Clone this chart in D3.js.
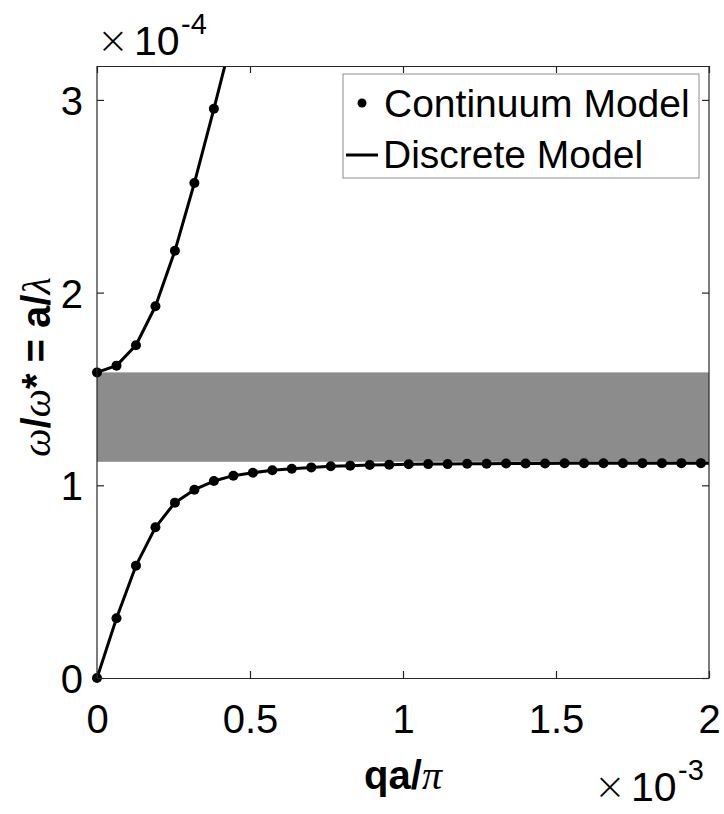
<!DOCTYPE html>
<html><head><meta charset="utf-8">
<script src="https://cdn.jsdelivr.net/npm/d3@7/dist/d3.min.js"></script>
<style>body{margin:0;background:#fff}svg{display:block}</style>
</head><body>
<script>
// qa/pi values (x 10^-3) of the sampled points
const qValues = [0, 0.0637, 0.1273, 0.1910, 0.2546, 0.3183, 0.3820, 0.4456, 0.5093, 0.5730,
  0.6366, 0.7003, 0.7639, 0.8276, 0.8913, 0.9549, 1.0186, 1.0823, 1.1459, 1.2096,
  1.2732, 1.3369, 1.4006, 1.4642, 1.5279, 1.5915, 1.6552, 1.7189, 1.7825, 1.8462,
  1.9099, 1.9735];
// lower (acoustic) branch, omega/omega* (x 10^-4)
const lowerValues = [0, 0.310, 0.583, 0.782, 0.910, 0.977, 1.022, 1.050, 1.065, 1.078,
  1.086, 1.093, 1.099, 1.102, 1.105, 1.107, 1.109, 1.110, 1.110, 1.112,
  1.112, 1.113, 1.113, 1.113, 1.114, 1.114, 1.114, 1.114, 1.115, 1.115,
  1.115, 1.115];
// upper (optical) branch, first points
const upperValues = [1.586, 1.621, 1.727, 1.929, 2.217, 2.569, 2.954, 3.350];
// discrete model end point of lower branch
const lowerEnd = [2, 1.115];
// band gap limits
const gapBand = [1.122, 1.586];
const xTicks = [0, 0.5, 1, 1.5, 2];
const yTicks = [0, 1, 2, 3];
const xDomain = [0, 2];
const yDomain = [0, 3.176];

const W = 724, H = 814;
const svg = d3.select("body").append("svg").attr("width", W).attr("height", H)
  .style("font-family", "'Liberation Sans', Arial, sans-serif");

const L = 97, R = 709, T = 66, B = 678;
const x = d3.scaleLinear().domain(xDomain).range([L, R]);
const y = d3.scaleLinear().domain(yDomain).range([B, T]);

svg.append("defs").append("clipPath").attr("id", "clip")
  .append("rect").attr("x", L).attr("y", T).attr("width", R - L).attr("height", B - T);

const plot = svg.append("g");
// band gap
plot.append("rect")
  .attr("x", x(xDomain[0])).attr("width", x(xDomain[1]) - x(xDomain[0]))
  .attr("y", y(gapBand[1])).attr("height", y(gapBand[0]) - y(gapBand[1]))
  .attr("fill", "#8c8c8c");

const lowerPts = qValues.map((q, i) => [q, lowerValues[i]]);
const upperPts = upperValues.map((v, i) => [qValues[i], v]);
const lineGen = d3.line().x(d => x(d[0])).y(d => y(d[1]));

const lines = plot.append("g").attr("clip-path", "url(#clip)");
lines.append("path").datum(lowerPts.concat([lowerEnd]))
  .attr("d", lineGen).attr("fill", "none").attr("stroke", "#000").attr("stroke-width", 3).attr("stroke-linejoin", "round");
lines.append("path").datum(upperPts)
  .attr("d", lineGen).attr("fill", "none").attr("stroke", "#000").attr("stroke-width", 3).attr("stroke-linejoin", "round");

const dots = lowerPts.concat(upperPts).filter(d => d[1] <= yDomain[1] && d[0] <= xDomain[1]);
plot.append("g").selectAll("circle").data(dots).join("circle")
  .attr("cx", d => x(d[0])).attr("cy", d => y(d[1])).attr("r", 5).attr("fill", "#000");

// axes
const axCol = "#262626";
const gB = svg.append("g").attr("transform", `translate(0,${B})`)
  .call(d3.axisBottom(x).tickValues(xTicks).tickFormat(d3.format("")).tickSizeInner(-7).tickSizeOuter(0));
const gT = svg.append("g").attr("transform", `translate(0,${T})`)
  .call(d3.axisTop(x).tickValues(xTicks).tickFormat("").tickSizeInner(-7).tickSizeOuter(0));
const gL = svg.append("g").attr("transform", `translate(${L},0)`)
  .call(d3.axisLeft(y).tickValues(yTicks).tickFormat(d3.format("")).tickSizeInner(-7).tickSizeOuter(0));
const gR = svg.append("g").attr("transform", `translate(${R},0)`)
  .call(d3.axisRight(y).tickValues(yTicks).tickFormat("").tickSizeInner(-7).tickSizeOuter(0));
[gB, gT, gL, gR].forEach(g => {
  g.select(".domain").attr("stroke", axCol).attr("stroke-width", 1.2);
  g.selectAll(".tick line").attr("stroke", axCol).attr("stroke-width", 1.2);
});
gL.select(".domain").attr("d", `M0,${B}V${T}`);
gR.select(".domain").attr("d", `M0,${B}V${T}`);
gB.selectAll(".tick text").attr("y", 55).attr("dy", null)
  .attr("font-size", 40).attr("fill", "#000").attr("font-family", "'Liberation Sans', Arial, sans-serif");
gL.selectAll(".tick text").attr("x", -14).attr("dy", "0.36em")
  .attr("font-size", 40).attr("fill", "#000").attr("font-family", "'Liberation Sans', Arial, sans-serif");

// exponent labels
function expLabel(x0, base, exp) {
  svg.append("text").attr("x", x0 - 4).attr("y", base - 2).attr("font-size", 38)
    .attr("font-family", "'DejaVu Sans', sans-serif").attr("font-weight", 200).attr("fill", "#000").text("×");
  svg.append("text").attr("x", x0 + 33).attr("y", base).attr("font-size", 41).attr("fill", "#000").text("10");
  svg.append("text").attr("x", x0 + 80).attr("y", base - 21).attr("font-size", 29).attr("fill", "#000").text(exp);
}
expLabel(101, 55, "-4");
expLabel(598, 801, "-3");

// x label
const greek = "'Liberation Serif', 'DejaVu Serif', serif";
const xl = svg.append("text").attr("x", (L + R) / 2).attr("y", 789).attr("text-anchor", "middle")
  .attr("font-size", 40).attr("fill", "#000");
xl.append("tspan").attr("font-weight", "bold").text("qa/");
xl.append("tspan").attr("font-style", "italic").attr("font-family", greek).text("π");

// y label
const yl = svg.append("text").attr("transform", "translate(50,367) rotate(-90)")
  .attr("text-anchor", "middle").attr("font-size", 40).attr("fill", "#000");
yl.append("tspan").attr("font-style", "italic").attr("font-family", greek).text("ω");
yl.append("tspan").attr("font-weight", "bold").text("/");
yl.append("tspan").attr("font-style", "italic").attr("font-family", greek).text("ω");
yl.append("tspan").attr("font-weight", "bold").text("* = a/");
yl.append("tspan").attr("font-style", "italic").attr("font-family", greek).text("λ");

// legend
const lg = svg.append("g");
lg.append("rect").attr("x", 343).attr("y", 74).attr("width", 356).attr("height", 104)
  .attr("fill", "#fff").attr("stroke", "#8c8c8c").attr("stroke-width", 1);
lg.append("circle").attr("cx", 362).attr("cy", 103).attr("r", 4.5).attr("fill", "#000");
lg.append("text").attr("x", 384).attr("y", 117).attr("font-size", 39).attr("fill", "#000").text("Continuum Model");
lg.append("line").attr("x1", 346).attr("x2", 378).attr("y1", 155).attr("y2", 155)
  .attr("stroke", "#000").attr("stroke-width", 3);
lg.append("text").attr("x", 383).attr("y", 168).attr("font-size", 39).attr("fill", "#000").text("Discrete Model");
</script>
</body></html>
